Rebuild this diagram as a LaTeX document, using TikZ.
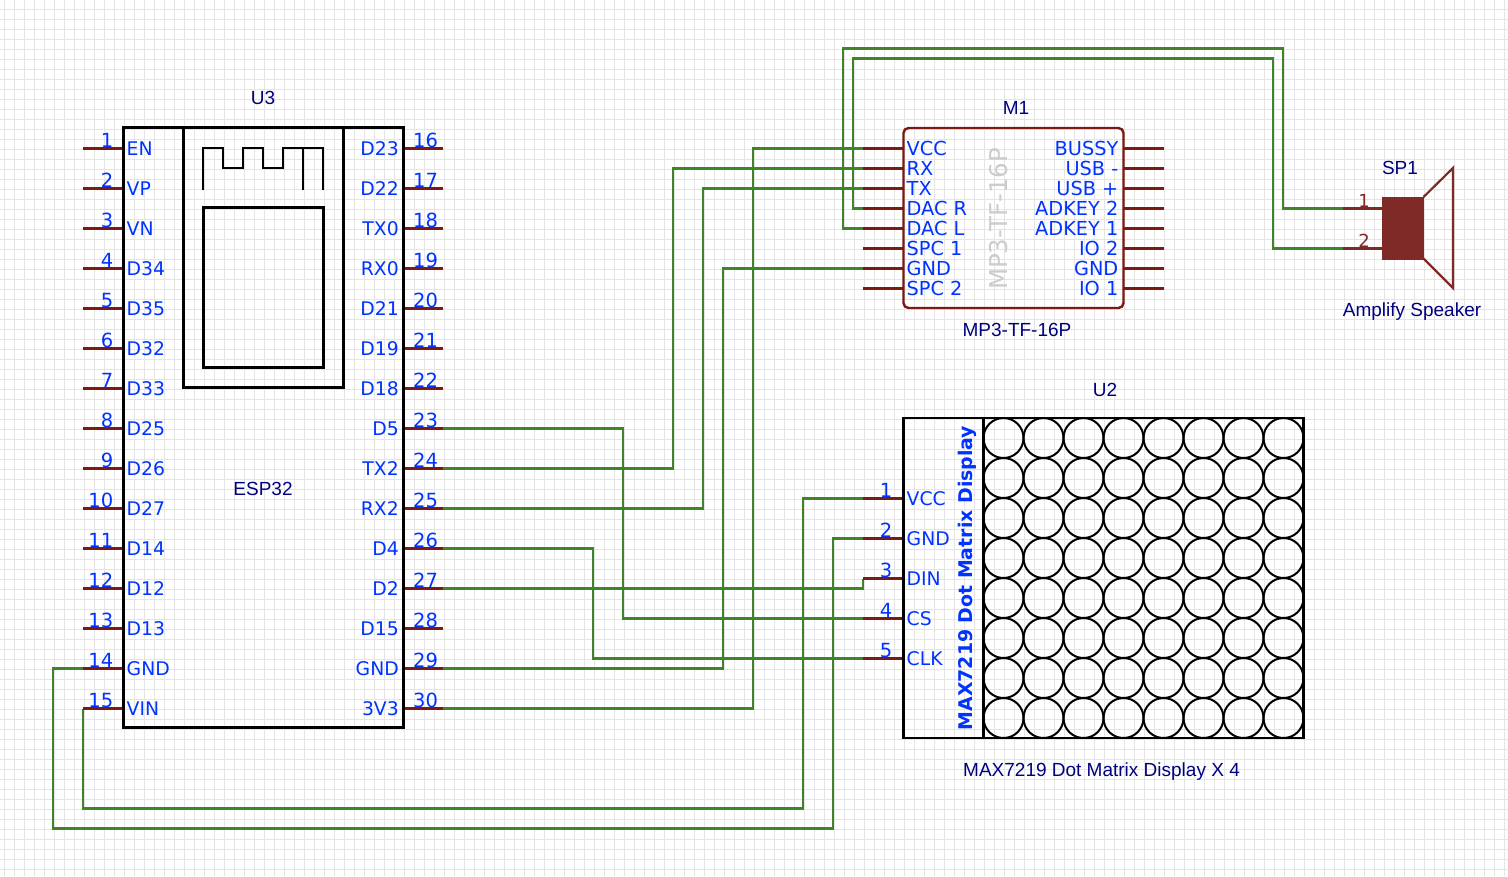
\documentclass[tikz,border=0pt]{standalone}
\usepackage{fontspec}
\setmainfont{Liberation Sans}
\newfontfamily\dejav{DejaVu Sans}
\newfontfamily\boldv{DejaVu Sans Bold}
\definecolor{gridc}{HTML}{E4E4E4}
\definecolor{pinc}{HTML}{7A1A12}
\definecolor{spk}{HTML}{7F2A26}
\definecolor{wirec}{HTML}{3F8428}
\definecolor{pinblue}{HTML}{0033FF}
\definecolor{navy}{HTML}{000080}
\tikzset{
 gridline/.style={gridc,line width=1pt},
 wire/.style={wirec,line width=2.5pt,line join=miter},
 pinline/.style={pinc,line width=2.5pt},
 part/.style={black,line width=2.6pt},
 thinpart/.style={black,line width=2pt},
 pinlabel/.style={inner sep=0pt,text=pinblue,font=\dejav\fontsize{18.8}{19}\selectfont},
 mlabel/.style={inner sep=0pt,text=pinblue,font=\dejav\fontsize{19.3}{19}\selectfont},
 pinnum/.style={inner sep=0pt,text=pinblue,font=\dejav\fontsize{19.5}{20}\selectfont},
 namelabel/.style={inner sep=0pt,text=navy,font=\fontsize{19}{19}\selectfont},
}
\begin{document}
\begin{tikzpicture}[x=1pt,y=-1pt]
\useasboundingbox (0,0) rectangle (1508,876);
\fill[white] (0,0) rectangle (1508,876);
% grid
\foreach \k in {0,...,150} \draw[gridline] ({4.5+10*\k},0) -- ({4.5+10*\k},876);
\foreach \k in {0,...,86} \draw[gridline] (0,{9.5+10*\k}) -- (1508,{9.5+10*\k});

% pin end coordinates
\foreach \i in {1,...,15} {
  \pgfmathsetmacro{\py}{148.5+40*(\i-1)}
  \coordinate (u\i) at (83,\py);
  \coordinate (ub\i) at (123.5,\py);
}
\foreach \i in {16,...,30} {
  \pgfmathsetmacro{\py}{148.5+40*(\i-16)}
  \coordinate (u\i) at (443,\py);
  \coordinate (ub\i) at (403.5,\py);
}
\foreach \i in {1,...,8} {
  \pgfmathsetmacro{\py}{148.5+20*(\i-1)}
  \coordinate (m\i) at (863,\py);
  \coordinate (mb\i) at (903.5,\py);
  \coordinate (n\i) at (1163.5,\py);
  \coordinate (nb\i) at (1123.5,\py);
}
\foreach \i in {1,...,5} {
  \pgfmathsetmacro{\py}{498.5+40*(\i-1)}
  \coordinate (d\i) at (863,\py);
  \coordinate (db\i) at (903.5,\py);
}
\coordinate (s1) at (1343,208.5);
\coordinate (sb1) at (1383,208.5);
\coordinate (s2) at (1343,248.5);
\coordinate (sb2) at (1383,248.5);

% wires
\draw[wire] (u23) -| (623,618.5) -- (d4);
\draw[wire] (u24) -| (673,168.5) -- (m2);
\draw[wire] (u25) -| (703,188.5) -- (m3);
\draw[wire] (u26) -| (593,658.5) -- (d5);
\draw[wire] (u27) -| (863,578.5) -- (d3);
\draw[wire] (u29) -| (723,268.5) -- (m7);
\draw[wire] (u30) -| (753,148.5) -- (m1);
\draw[wire] (u14) -| (53,828.5) -| (833,538.5) -- (d2);
\draw[wire] (u15) -- (83,808.5) -| (803,498.5) -- (d1);
\draw[wire] (m4) -| (853,58.5) -| (1273,248.5) -- (s2);
\draw[wire] (m5) -| (843,48.5) -| (1283,208.5) -- (s1);

% pins
\foreach \i in {1,...,30} \draw[pinline] (u\i) -- (ub\i);
\foreach \i in {1,...,8} {
  \draw[pinline] (m\i) -- (mb\i);
  \draw[pinline] (n\i) -- (nb\i);
}
\foreach \i in {1,...,5} \draw[pinline] (d\i) -- (db\i);
\draw[pinline,spk] (s1) -- (sb1);
\draw[pinline,spk] (s2) -- (sb2);

% U3 body
\draw[part] (123.5,127.5) rectangle (403.5,727.5);
\draw[part] (183.5,127.5) -- (183.5,387.5) -- (343.5,387.5) -- (343.5,127.5);
\draw[part] (203.5,207.5) rectangle (323.5,367.5);
\draw[thinpart,line cap=butt] (203,190) -- (203,148) -- (223,148) -- (223,168) -- (243,168) -- (243,148) -- (263,148) -- (263,168) -- (283,168) -- (283,148) -- (323,148) -- (323,190);
\draw[thinpart] (303,148) -- (303,190);

% U3 labels
\foreach \i/\t in {1/EN,2/VP,3/VN,4/D34,5/D35,6/D32,7/D33,8/D25,9/D26,10/D27,11/D14,12/D12,13/D13,14/GND,15/VIN} {
  \pgfmathsetmacro{\py}{148+40*(\i-1)}
  \node[pinlabel,anchor=base west] (ul\i) at (126.5,\py+7) {\t};
  \node[pinnum,anchor=base east] (un\i) at (113.5,\py-1) {\i};
}
\foreach \i/\t in {16/D23,17/D22,18/TX0,19/RX0,20/D21,21/D19,22/D18,23/D5,24/TX2,25/RX2,26/D4,27/D2,28/D15,29/GND,30/3V3} {
  \pgfmathsetmacro{\py}{148+40*(\i-16)}
  \node[pinlabel,anchor=base east] (ul\i) at (399,\py+7) {\t};
  \node[pinnum,anchor=base west] (un\i) at (413,\py-1) {\i};
}
\node[namelabel,anchor=base] (u3name) at (263,104.5) {U3};
\node[namelabel,anchor=base] (u3part) at (263,495.5) {ESP32};

% M1 body
\draw[pinc,line width=2.4pt,rounded corners=5pt] (903.5,128) rectangle (1123.5,308);
\foreach \i/\t in {1/VCC,2/RX,3/TX,4/DAC R,5/DAC L,6/SPC 1,7/GND,8/SPC 2} {
  \pgfmathsetmacro{\py}{148+20*(\i-1)}
  \node[mlabel,anchor=base west] (ml\i) at (906.5,\py+7) {\t};
}
\foreach \i/\t in {1/BUSSY,2/USB -,3/USB +,4/ADKEY 2,5/ADKEY 1,6/IO 2,7/GND,8/IO 1} {
  \pgfmathsetmacro{\py}{148+20*(\i-1)}
  \node[mlabel,anchor=base east] (nl\i) at (1118.5,\py+7) {\t};
}
\node[inner sep=0pt,text=black!20,font=\dejav\fontsize{24.5}{25}\selectfont,rotate=90] (mwm) at (999,219) {MP3-TF-16P};
\node[namelabel,anchor=base] (m1name) at (1016,114) {M1};
\node[namelabel,anchor=base] (m1part) at (1017,336) {MP3-TF-16P};

% U2 body
\foreach \r in {0,...,7} \foreach \c in {0,...,7}
  \draw[thinpart] ({1003.5+40*\c},{438+40*\r}) circle (20);
\draw[part] (903.5,418) rectangle (1303.5,738);
\draw[part] (983.5,418) -- (983.5,738);
\foreach \i/\t in {1/VCC,2/GND,3/DIN,4/CS,5/CLK} {
  \pgfmathsetmacro{\py}{498+40*(\i-1)}
  \node[pinlabel,anchor=base west] (dl\i) at (906.5,\py+7) {\t};
  \node[pinnum,anchor=base] (dn\i) at (886,\py-1) {\i};
}
\node[inner sep=0pt,text=pinblue,font=\boldv\fontsize{18.9}{19}\selectfont,rotate=90] (dtitle) at (967.5,578) {MAX7219 Dot Matrix Display};
\node[namelabel,anchor=base] (u2name) at (1105,396) {U2};
\node[namelabel,anchor=base west] (u2part) at (963,776) {MAX7219 Dot Matrix Display X 4};

% Speaker
\fill[spk] (1382,197) rectangle (1423.5,259.5);
\draw[spk,line width=2.2pt,line join=miter] (1423.5,197) -- (1453,168) -- (1453,288) -- (1423.5,258.5);
\node[inner sep=0pt,text=spk,font=\dejav\fontsize{18}{18}\selectfont,anchor=base] (sn1) at (1364,207) {1};
\node[inner sep=0pt,text=spk,font=\dejav\fontsize{18}{18}\selectfont,anchor=base] (sn2) at (1364,247) {2};
\node[namelabel,anchor=base] (spname) at (1400,174) {SP1};
\node[namelabel,anchor=base] (sppart) at (1412,316) {Amplify Speaker};
\end{tikzpicture}
\end{document}
